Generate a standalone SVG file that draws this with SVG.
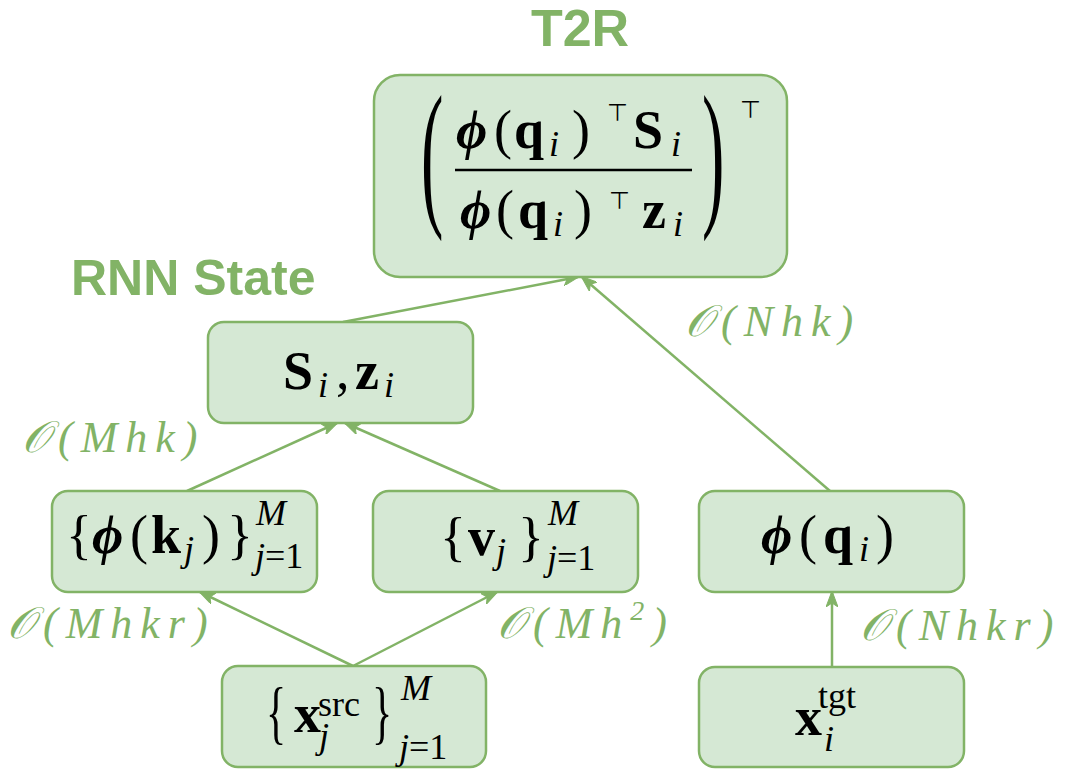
<svg xmlns="http://www.w3.org/2000/svg" width="1080" height="776" viewBox="0 0 1080 776">
<defs>
<style>
.box{fill:#d5e8d4;stroke:#82b366;stroke-width:2.5}
.title{font-family:"Liberation Sans",Arial,sans-serif;font-weight:bold;fill:#82b366}
.m{font-family:"Liberation Serif","DejaVu Serif",serif;font-size:54px;fill:#000}
.b{font-weight:bold}
.bi{font-weight:bold;font-style:italic}
.it{font-style:italic}
.s{font-size:36px}
.si{font-size:36px;font-style:italic}
.t{font-family:"DejaVu Sans",sans-serif;font-size:24px;fill:#000}
.lbl{font-family:"Liberation Serif","DejaVu Serif",serif;font-style:italic;font-size:44px;fill:#82b366;letter-spacing:8px}
.edge{stroke:#82b366;stroke-width:2.5;fill:none;marker-end:url(#arr)}
</style>
<marker id="arr" viewBox="0 0 16 12" refX="15" refY="6" markerWidth="16" markerHeight="12" markerUnits="userSpaceOnUse" orient="auto">
<path d="M0,0 L16,6 L0,12 L4,6 Z" fill="#82b366" stroke="#82b366" stroke-width="1"/>
</marker>
</defs>
<rect width="1080" height="776" fill="#ffffff"/>
<text class="title" x="580" y="46" font-size="52" text-anchor="middle">T2R</text>
<text class="title" x="71" y="295" font-size="50">RNN State</text>

<g id="connectors">
<line class="edge" x1="343" y1="322" x2="578" y2="277"/>
<line class="edge" x1="830" y1="491" x2="582" y2="277"/>
<line class="edge" x1="187" y1="491" x2="337" y2="423"/>
<line class="edge" x1="500" y1="491" x2="345" y2="423"/>
<line class="edge" x1="353" y1="666" x2="200" y2="592"/>
<line class="edge" x1="353" y1="666" x2="497" y2="592"/>
<line class="edge" x1="832" y1="667" x2="832" y2="592"/>
</g>

<g id="labels">
<text class="lbl" x="685" y="336">𝒪(Nhk)</text>
<text class="lbl" x="22" y="452">𝒪(Mhk)</text>
<text class="lbl" x="7" y="638">𝒪(Mhkr)</text>
<text class="lbl" x="497" y="638">𝒪(Mh<tspan style="font-size:28px" dy="-18">2</tspan><tspan dy="18">)</tspan></text>
<text class="lbl" x="860" y="640">𝒪(Nhkr)</text>
</g>

<g id="node-t2r">
<rect class="box" x="374" y="75" width="413" height="202" rx="26"/>
<text class="m" transform="translate(421,207) scale(0.42,1)" style="font-size:160px">(</text>
<text class="m" transform="translate(702,207) scale(0.42,1)" style="font-size:160px">)</text>
<text class="m"><tspan class="bi" x="456" y="148">ϕ</tspan><tspan x="494" y="148">(</tspan><tspan class="b" x="514" y="148">q</tspan><tspan class="si" x="549" y="156">i</tspan><tspan x="572" y="148">)</tspan><tspan class="b" x="633" y="148">S</tspan><tspan class="si" x="671" y="156">i</tspan></text>
<text class="t" x="607" y="121">⊤</text>
<line x1="455" y1="170" x2="692" y2="170" stroke="#000" stroke-width="2.5"/>
<text class="m"><tspan class="bi" x="460" y="228">ϕ</tspan><tspan x="496" y="228">(</tspan><tspan class="b" x="518" y="228">q</tspan><tspan class="si" x="553" y="236">i</tspan><tspan x="574" y="228">)</tspan><tspan class="b" x="642" y="228">z</tspan><tspan class="si" x="673" y="236">i</tspan></text>
<text class="t" x="609" y="209">⊤</text>
<text class="t" x="740" y="118">⊤</text>
</g>

<g id="node-state">
<rect class="box" x="208" y="322" width="265" height="101" rx="16"/>
<text class="m"><tspan class="b" x="283" y="389">S</tspan><tspan class="si" x="318" y="397">i</tspan><tspan x="336" y="389">,</tspan><tspan class="b" x="355" y="389">z</tspan><tspan class="si" x="384" y="397">i</tspan></text>
</g>

<g id="node-phik">
<rect class="box" x="52" y="491" width="265" height="101" rx="16"/>
<text class="m"><tspan x="66" y="553">{</tspan><tspan class="bi" x="92" y="553">ϕ</tspan><tspan x="130" y="553">(</tspan><tspan class="b" x="151" y="553">k</tspan><tspan class="si" x="184" y="561">j</tspan><tspan x="202" y="553">)</tspan><tspan x="227" y="553">}</tspan></text>
<text class="m"><tspan class="si" x="256" y="525">M</tspan><tspan class="si" x="255" y="568">j</tspan><tspan class="s" y="568">=1</tspan></text>
</g>

<g id="node-v">
<rect class="box" x="373" y="491" width="265" height="101" rx="16"/>
<text class="m"><tspan x="440" y="555">{</tspan><tspan class="b" x="468" y="555">v</tspan><tspan class="si" x="496" y="563">j</tspan><tspan x="518" y="555">}</tspan></text>
<text class="m"><tspan class="si" x="548" y="525">M</tspan><tspan class="si" x="547" y="570">j</tspan><tspan class="s" y="570">=1</tspan></text>
</g>

<g id="node-phiq">
<rect class="box" x="699" y="491" width="265" height="101" rx="16"/>
<text class="m"><tspan class="bi" x="761" y="553">ϕ</tspan><tspan x="799" y="553">(</tspan><tspan class="b" x="823" y="553">q</tspan><tspan class="si" x="859" y="561">i</tspan><tspan x="876" y="553">)</tspan></text>
</g>

<g id="node-xsrc">
<rect class="box" x="222" y="666" width="264" height="101" rx="16"/>
<text class="m" transform="translate(266,736) scale(0.6,1)" style="font-size:70px">{</text>
<text class="m" transform="translate(372,736) scale(0.6,1)" style="font-size:70px">}</text>
<text class="m"><tspan class="b" x="294" y="732">x</tspan><tspan class="s" x="318" y="716">src</tspan><tspan class="si" x="319" y="748">j</tspan></text>
<text class="m"><tspan class="si" x="401" y="700">M</tspan><tspan class="si" x="399" y="759">j</tspan><tspan class="s" y="759">=1</tspan></text>
</g>

<g id="node-xtgt">
<rect class="box" x="699" y="667" width="265" height="100" rx="16"/>
<text class="m"><tspan class="b" x="795" y="735">x</tspan><tspan class="s" x="818" y="708">tgt</tspan><tspan class="si" x="824" y="751">i</tspan></text>
</g>
</svg>
